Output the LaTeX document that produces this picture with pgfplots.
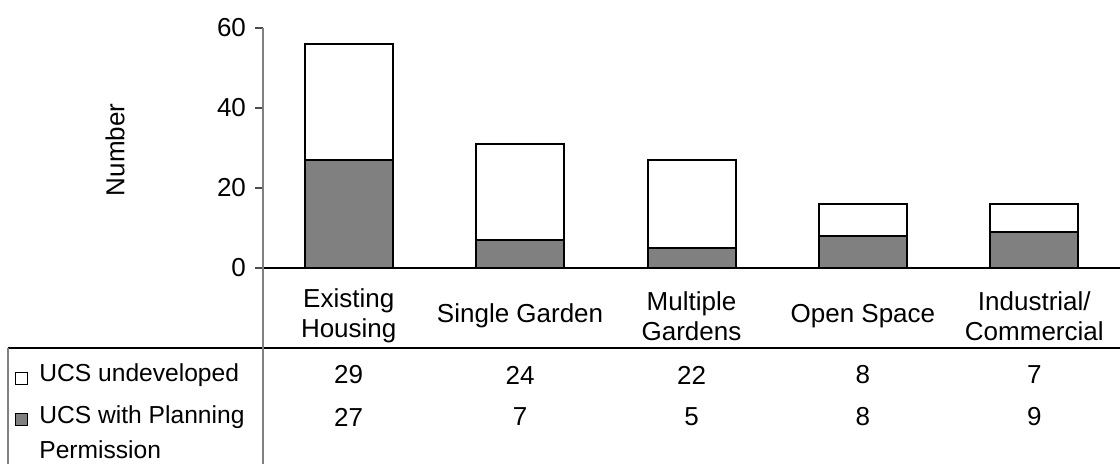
\documentclass[border=0pt]{standalone}
\usepackage{pgfplots}
\pgfplotsset{compat=1.18}
\usepackage{fontspec}
\setmainfont{Liberation Sans}
\definecolor{barfill}{HTML}{808080}
\definecolor{axgray}{HTML}{808080}
\newcommand\cf{\fontsize{13}{15}\selectfont}
\newcommand\lf{\fontsize{12.3}{15}\selectfont}

\begin{document}
\begin{tikzpicture}[font=\cf]
\path[use as bounding box] (0,0) rectangle (560pt,232pt);
\begin{axis}[
  at={(131.5pt,98pt)}, anchor=south west,
  scale only axis, width=428.5pt, height=120pt,
  ybar stacked, bar width=44pt,
  xmin=-0.5, xmax=4.5, ymin=0, ymax=60,
  ytick={0,20,40,60},
  xtick={0,1,2,3,4},
  xticklabels={{Existing\\Housing},{Single Garden},{Multiple\\Gardens},{Open Space},{Industrial/\\Commercial}},
  xticklabel style={align=center, anchor=center, yshift=-20pt, font=\cf},
  yticklabel style={font=\cf, xshift=-1pt},
  /pgf/number format/assume math mode=true,
  major x tick style={draw=none},
  axis x line*=bottom, axis y line*=left,
  x axis line style={black, line width=0.75pt},
  y axis line style={axgray, line width=0.75pt},
  tick align=outside, major tick length=4pt,
  ytick style={black!70, line width=0.75pt},
  ylabel={Number},
  ylabel style={at={(axis description cs:-0.1727,0.492)}, anchor=center, font=\cf},
  clip=false,
]
\addplot[fill=barfill, draw=black, line width=1pt] coordinates {(0,27) (1,7) (2,5) (3,8) (4,9)};
\addplot[fill=white, draw=black, line width=1pt] coordinates {(0,29) (1,24) (2,22) (3,8) (4,7)};
\end{axis}
% data table rules
\draw[black, line width=0.75pt] (4pt,58pt) -- (560pt,58pt);
\draw[axgray, line width=0.75pt] (4pt,58pt) -- (4pt,0pt);
\draw[axgray, line width=0.75pt] (131.5pt,98pt) -- (131.5pt,0pt);
% legend keys and row titles
\draw[black, line width=0.5pt, fill=white] (7.5pt,39.5pt) rectangle (13.5pt,45.5pt);
\node[anchor=west, inner sep=0pt, font=\lf] at (19.5pt,44.5pt) {UCS undeveloped};
\draw[black, line width=0.5pt, fill=barfill] (7.5pt,19.25pt) rectangle (13.5pt,25.25pt);
\node[anchor=west, inner sep=0pt, font=\lf] at (19.5pt,23.5pt) {UCS with Planning};
\node[anchor=west, inner sep=0pt, font=\lf] at (19.5pt,7pt) {Permission};
% table values
\foreach \i/\a/\b in {0/29/27,1/24/7,2/22/5,3/8/8,4/7/9} {
  \node at ({131.5pt+85.7pt*(\i+0.5)},44.5pt) {\a};
  \node at ({131.5pt+85.7pt*(\i+0.5)},23.5pt) {\b};
}
\end{tikzpicture}
\end{document}
